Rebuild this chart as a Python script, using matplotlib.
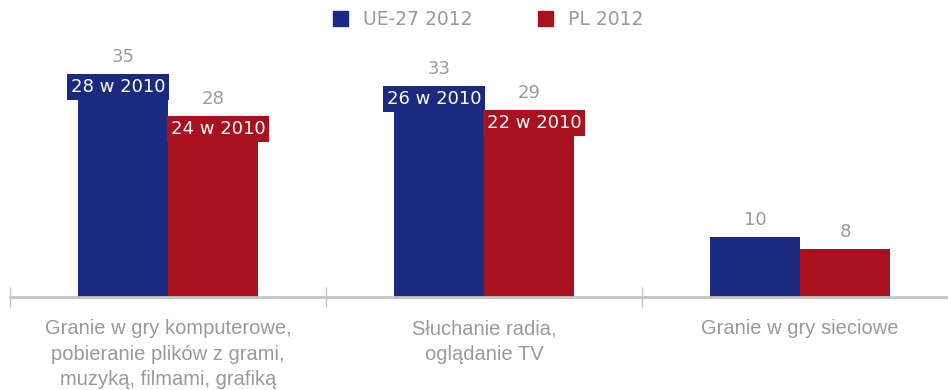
import matplotlib.pyplot as plt
import numpy as np
from matplotlib.patches import Patch

categories = ["Granie w gry komputerowe,\npobieranie plików z grami,\nmuzyką, filmami, grafiką",
              "Słuchanie radia,\noglądanie TV",
              "Granie w gry sieciowe"]
ue_2012 = [35, 33, 10]
pl_2012 = [28, 29, 8]
ue_2010 = [28, 26, None]
pl_2010 = [24, 22, None]

blue = "#1a2a80"
red = "#a8111e"
grey = "#9a9a9a"
axis_grey = "#c4c4c4"
narrow = ["Liberation Sans", "DejaVu Sans"]

fig = plt.figure(figsize=(9.48, 3.9), dpi=100)
ax = fig.add_axes([10 / 948, 93 / 390, 938 / 948, 297 / 390])

x = np.arange(len(categories))
w = 0.285
ax.bar(x - w / 2, ue_2012, w, color=blue, zorder=2)
ax.bar(x + w / 2, pl_2012, w, color=red, zorder=2)

for i in range(len(categories)):
    for val, old, col, side in [(ue_2012[i], ue_2010[i], blue, -1), (pl_2012[i], pl_2010[i], red, 1)]:
        cx = x[i] + side * w / 2
        if old is not None:
            if side < 0:
                ax.text(x[i] - 0.008, val, f"{old} w 2010", ha="right", va="center", color="white",
                        fontsize=13, zorder=3,
                        bbox=dict(boxstyle="square,pad=0.2", fc=col, ec="none"))
            else:
                ax.text(x[i] + 0.008, val, f"{old} w 2010", ha="left", va="center", color="white",
                        fontsize=13, zorder=3,
                        bbox=dict(boxstyle="square,pad=0.2", fc=col, ec="none"))
            ax.text(cx, val + 5, str(val), ha="center", va="center", color=grey, fontsize=13)
        else:
            ax.text(cx, val + 2.9, str(val), ha="center", va="center", color=grey, fontsize=13)

ax.set_xlim(-0.5, 2.468)
ax.set_ylim(0, 49.5)
ax.set_xticks([-0.5, 0.5, 1.5])
ax.set_xticklabels([])
ax.tick_params(axis="x", direction="inout", length=15, width=1, color=axis_grey)
ax.set_yticks([])
for s in ["top", "right", "left"]:
    ax.spines[s].set_visible(False)
ax.spines["bottom"].set_color(axis_grey)
ax.spines["bottom"].set_linewidth(2)

for i, lab in enumerate(categories):
    ax.text(x[i], -3.7, lab, ha="center", va="top", color=grey, fontsize=14.5,
            family=narrow, linespacing=1.44)

handles = [Patch(color=blue), Patch(color=red)]
fig.legend(handles, ["UE-27 2012", "PL 2012"], loc="center", bbox_to_anchor=(0.515, 0.95),
           ncol=2, frameon=False, fontsize=13.5, labelcolor=grey, handlelength=0.8,
           handleheight=0.8, handletextpad=0.8, columnspacing=3.5)

fig.savefig("out.png", dpi=100)
